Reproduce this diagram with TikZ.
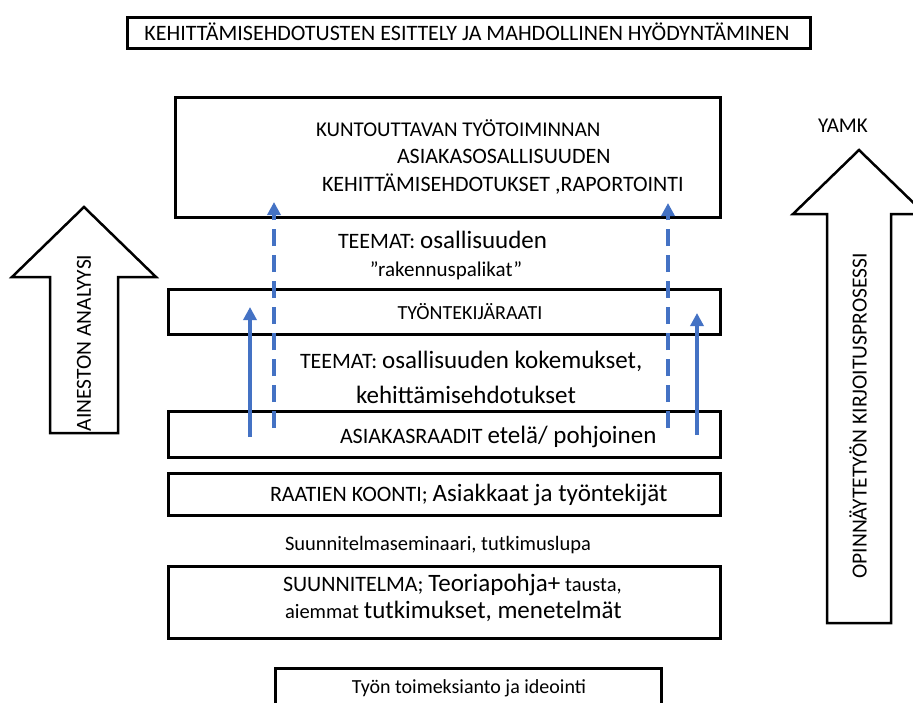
\documentclass[tikz,border=0pt]{standalone}
\usepackage{fontspec}
\setmainfont{Carlito}
\usepackage{xcolor}
\usetikzlibrary{arrows.meta}
\usetikzlibrary{positioning}
\definecolor{sininen}{RGB}{68,114,196}
\newcommand{\isoteksti}[1]{{\fontsize{25}{30}\selectfont #1}}
\newcommand{\pieniteksti}[1]{{\fontsize{20.5}{24}\selectfont #1}}

\begin{document}
\begin{tikzpicture}[x=1pt,y=-1pt,
	laatikko/.style={draw,line width=3pt,minimum width=552pt},
	nuoli/.style={draw,line width=2.5pt,line join=miter},
	yhteys/.style={sininen,line width=3.5pt,-{Triangle[width=13pt,length=13pt]}},
	katkoviiva/.style={yhteys,dash pattern=on 17pt off 9pt},
	teksti/.style={font=\fontsize{22}{26}\selectfont},
	vasen/.style={teksti,anchor=mid west}]
	\tikzstyle{every node}=[inner sep=0pt,outer sep=0pt]
	\clip (0,0) rectangle (913,702);

	% laatikot
	\node[laatikko,minimum width=683pt,minimum height=31pt] (otsikko) at (468.5,32.5) {};
	\node[laatikko,minimum width=545pt,minimum height=120pt] (kuntoutus) at (447.5,157) {};
	\node[laatikko,minimum height=45pt] (raati) at (444,311.5) {};
	\node[laatikko,minimum height=46pt] (asiakas) at (444,434) {};
	\node[laatikko,minimum height=42pt] (koonti) at (444,494) {};
	\node[laatikko,minimum height=72pt] (suunnitelma) at (444,602) {};
	\node[laatikko,minimum width=386pt,minimum height=46pt] (toimeksianto) at (468,691) {};

	% tekstit
	\node[teksti] (otsikkoteksti) at (467,32) {KEHITTÄMISEHDOTUSTEN ESITTELY JA MAHDOLLINEN HYÖDYNTÄMINEN};
	\node[vasen,font=\fontsize{21}{25}\selectfont] (kunt1) at (316,134) {KUNTOUTTAVAN TYÖTOIMINNAN};
	\node[vasen] (kunt2) at (397,161) {ASIAKASOSALLISUUDEN};
	\node[vasen] (kunt3) at (322,189) {KEHITTÄMISEHDOTUKSET ,RAPORTOINTI};
	\node[vasen] (teemat1) at (338,246) {TEEMAT: \isoteksti{osallisuuden}};
	\node[teksti,font=\fontsize{21}{25}\selectfont] (palikat) at (446,271) {”rakennuspalikat”};
	\node[teksti,font=\fontsize{20}{24}\selectfont] (raatiteksti) at (470,312) {TYÖNTEKIJÄRAATI};
	\node[vasen] (teemat2) at (300,366) {TEEMAT: \isoteksti{osallisuuden kokemukset,}};
	\node[teksti] (ehdotukset) at (466,395) {\isoteksti{kehittämisehdotukset}};
	\node[vasen] (asiakasteksti) at (340,441) {ASIAKASRAADIT \isoteksti{etelä/ pohjoinen}};
	\node[vasen] (koontiteksti) at (270,499) {RAATIEN KOONTI; \isoteksti{Asiakkaat ja työntekijät}};
	\node[vasen] (seminaari) at (285,548) {\pieniteksti{Suunnitelmaseminaari, tutkimuslupa}};
	\node[vasen] (suunn1) at (283,589) {SUUNNITELMA; \isoteksti{Teoriapohja+} \pieniteksti{tausta,}};
	\node[vasen] (suunn2) at (285,616) {\pieniteksti{aiemmat} \isoteksti{tutkimukset, menetelmät}};
	\node[teksti,font=\fontsize{20}{24}\selectfont] (toimeksteksti) at (469,688) {Työn toimeksianto ja ideointi};
	\node[teksti,font=\fontsize{21}{25}\selectfont] (yamk) at (843,126) {YAMK};

	% isot nuolet
	\draw[nuoli] (50,433) -- (50,277) -- (12,277) -- (84,207) -- (156,277) -- (118,277) -- (118,433) -- cycle;
	\node[teksti,font=\fontsize{21.5}{25}\selectfont,rotate=90] (analyysi) at (84,343) {AINESTON ANALYYSI};
	\draw[nuoli] (827,623) -- (827,214) -- (793,214) -- (859,150) -- (925,214) -- (891,214) -- (891,623) -- cycle;
	\node[teksti,font=\fontsize{21.5}{25}\selectfont,rotate=90] (prosessi) at (858,416) {OPINNÄYTETYÖN KIRJOITUSPROSESSI};

	% siniset nuolet
	\coordinate (va1) at (250,437);
	\coordinate (vy1) at (250,307);
	\coordinate (oa1) at (697,435);
	\coordinate (oy1) at (697,313);
	\coordinate (va2) at (274,428);
	\coordinate (vy2) at (274,202);
	\coordinate (oa2) at (668,428);
	\coordinate (oy2) at (668,203);
	\draw[yhteys] (va1) -- (vy1);
	\draw[yhteys] (oa1) -- (oy1);
	\draw[katkoviiva] (va2) -- (vy2);
	\draw[katkoviiva] (oa2) -- (oy2);
\end{tikzpicture}
\end{document}
